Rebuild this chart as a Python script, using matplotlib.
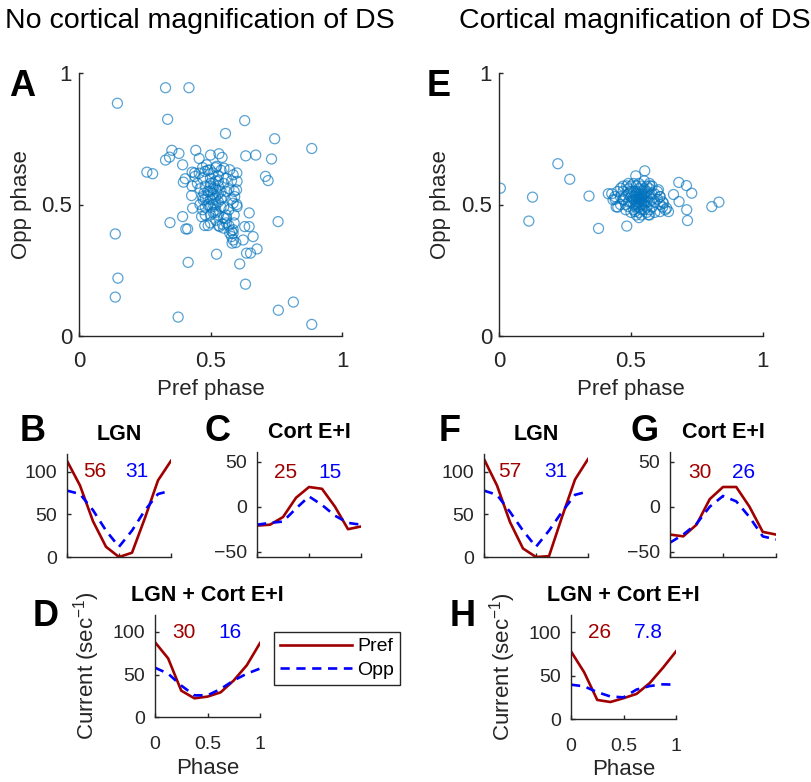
import matplotlib
matplotlib.use("Agg")
import matplotlib.pyplot as plt
from matplotlib.lines import Line2D

plt.rcParams['font.family'] = ['Liberation Sans', 'DejaVu Sans']
plt.rcParams['mathtext.fontset'] = 'custom'
plt.rcParams['mathtext.rm'] = 'Liberation Sans'
plt.rcParams['mathtext.it'] = 'Liberation Sans'

# ---- scatter data: (pref phase, opp phase) per cell ----
pref_A = [0.146, 0.329, 0.418, 0.337, 0.630, 0.557, 0.744, 0.885, 0.353, 0.380,
          0.444, 0.329, 0.344, 0.457, 0.500, 0.532, 0.544, 0.634, 0.672, 0.732,
          0.394, 0.258, 0.280, 0.430, 0.441, 0.404, 0.397, 0.709, 0.719, 0.428,
          0.432, 0.346, 0.394, 0.406, 0.413, 0.138, 0.415, 0.523, 0.611, 0.637,
          0.652, 0.677, 0.662, 0.647, 0.757, 0.630, 0.647, 0.633, 0.148, 0.138,
          0.377, 0.758, 0.815, 0.885, 0.586, 0.582, 0.596, 0.624, 0.478, 0.491,
          0.535, 0.546, 0.586, 0.586, 0.573, 0.580, 0.561, 0.466, 0.470, 0.472,
          0.475, 0.586, 0.601, 0.592, 0.599, 0.601, 0.586, 0.573, 0.551, 0.523,
          0.498, 0.479, 0.457, 0.485,
          0.50, 0.51, 0.52, 0.49, 0.50, 0.51, 0.52, 0.53, 0.54, 0.52,
          0.50, 0.53, 0.49, 0.51, 0.53, 0.55, 0.54, 0.56, 0.55, 0.53,
          0.51, 0.48, 0.47, 0.48, 0.50, 0.52, 0.55, 0.57, 0.58, 0.57,
          0.56, 0.54, 0.52, 0.49, 0.47, 0.46, 0.46, 0.48, 0.50, 0.53,
          0.56, 0.59, 0.60, 0.59, 0.58, 0.51, 0.52, 0.50, 0.51, 0.53,
          0.52, 0.50, 0.49, 0.54, 0.51, 0.53, 0.50, 0.52, 0.55, 0.48,
          0.56, 0.57, 0.58, 0.59, 0.55, 0.45, 0.44, 0.43, 0.47, 0.60]
opp_A = [0.885, 0.944, 0.944, 0.824, 0.819, 0.770, 0.750, 0.713, 0.706, 0.694,
         0.706, 0.669, 0.680, 0.675, 0.688, 0.693, 0.679, 0.685, 0.688, 0.673,
         0.651, 0.623, 0.617, 0.623, 0.607, 0.598, 0.585, 0.607, 0.591, 0.534,
         0.486, 0.431, 0.454, 0.407, 0.407, 0.388, 0.280, 0.311, 0.274, 0.315,
         0.315, 0.331, 0.378, 0.468, 0.435, 0.416, 0.416, 0.197, 0.220, 0.148,
         0.072, 0.098, 0.129, 0.044, 0.365, 0.353, 0.355, 0.365, 0.420, 0.420,
         0.416, 0.425, 0.404, 0.391, 0.391, 0.378, 0.448, 0.454, 0.480, 0.518,
         0.543, 0.505, 0.492, 0.530, 0.556, 0.588, 0.613, 0.632, 0.638, 0.645,
         0.632, 0.626, 0.619, 0.651,
         0.58, 0.56, 0.59, 0.55, 0.52, 0.50, 0.48, 0.51, 0.55, 0.53,
         0.60, 0.57, 0.50, 0.47, 0.46, 0.49, 0.52, 0.55, 0.58, 0.61,
         0.62, 0.57, 0.53, 0.49, 0.46, 0.44, 0.45, 0.48, 0.52, 0.56,
         0.60, 0.63, 0.64, 0.63, 0.60, 0.56, 0.50, 0.46, 0.43, 0.42,
         0.43, 0.46, 0.50, 0.55, 0.59, 0.54, 0.56, 0.55, 0.58, 0.54,
         0.50, 0.49, 0.53, 0.49, 0.52, 0.59, 0.57, 0.47, 0.53, 0.52,
         0.46, 0.42, 0.40, 0.43, 0.41, 0.58, 0.62, 0.57, 0.64, 0.62]

pref_E = [0.005, 0.127, 0.113, 0.223, 0.268, 0.341, 0.377, 0.484, 0.518, 0.552,
          0.681, 0.710, 0.730, 0.711, 0.714, 0.661, 0.682, 0.806, 0.833, 0.642,
          0.635, 0.414, 0.427, 0.439, 0.432, 0.444, 0.461, 0.484, 0.572, 0.604,
          0.610, 0.610, 0.566, 0.515, 0.490, 0.471, 0.623,
          0.53, 0.54, 0.52, 0.55, 0.53, 0.54, 0.52, 0.55, 0.51, 0.56,
          0.53, 0.54, 0.52, 0.55, 0.53, 0.57, 0.50, 0.51, 0.56, 0.54,
          0.52, 0.55, 0.53, 0.57, 0.50, 0.58, 0.49, 0.51, 0.56, 0.54,
          0.52, 0.58, 0.49, 0.55, 0.53, 0.51, 0.57, 0.59, 0.48, 0.50,
          0.56, 0.54, 0.57, 0.59, 0.60, 0.48, 0.47, 0.50, 0.52, 0.56,
          0.58, 0.61, 0.60, 0.58, 0.53, 0.55, 0.51, 0.49, 0.47, 0.46,
          0.46, 0.48, 0.50, 0.53, 0.57, 0.59, 0.62, 0.63, 0.61, 0.62,
          0.45, 0.44, 0.45, 0.47, 0.49, 0.57, 0.52, 0.54, 0.53, 0.54,
          0.52, 0.55, 0.53, 0.54, 0.53, 0.55, 0.52, 0.56, 0.54, 0.51]
opp_E = [0.562, 0.528, 0.437, 0.655, 0.596, 0.532, 0.409, 0.418, 0.609, 0.628,
         0.584, 0.572, 0.543, 0.480, 0.439, 0.538, 0.511, 0.492, 0.509, 0.473,
         0.486, 0.541, 0.541, 0.530, 0.518, 0.491, 0.562, 0.571, 0.571, 0.556,
         0.530, 0.473, 0.461, 0.473, 0.492, 0.518, 0.505,
         0.52, 0.53, 0.51, 0.52, 0.54, 0.50, 0.53, 0.54, 0.52, 0.51,
         0.50, 0.55, 0.55, 0.50, 0.49, 0.53, 0.53, 0.50, 0.55, 0.48,
         0.49, 0.56, 0.56, 0.51, 0.51, 0.52, 0.54, 0.55, 0.49, 0.57,
         0.57, 0.54, 0.51, 0.48, 0.47, 0.48, 0.56, 0.51, 0.53, 0.55,
         0.57, 0.46, 0.48, 0.54, 0.52, 0.50, 0.52, 0.57, 0.46, 0.47,
         0.49, 0.50, 0.55, 0.57, 0.58, 0.59, 0.58, 0.56, 0.55, 0.53,
         0.50, 0.48, 0.47, 0.45, 0.46, 0.47, 0.49, 0.48, 0.53, 0.51,
         0.55, 0.52, 0.49, 0.57, 0.58, 0.58, 0.52, 0.52, 0.53, 0.51,
         0.54, 0.53, 0.51, 0.54, 0.52, 0.51, 0.50, 0.53, 0.53, 0.53]

# ---- current vs phase curves ----
phase = [0, 0.125, 0.25, 0.375, 0.5, 0.625, 0.75, 0.875, 1.0]

lgn_pref_B = [113, 84, 42, 12, 0, 5, 46, 90, 113]
lgn_opp_B = [78, 74, 55, 31, 12, 31, 55, 74, 78]
cort_pref_C = [-21, -20, -11.5, 10, 22, 20, 0, -25, -22]
cort_opp_C = [-20, -18, -16.5, -2, 11.5, 2, -10, -18, -20]
tot_pref_D = [88, 69, 31, 22, 24, 29, 43, 61, 87]
tot_opp_D = [58, 51, 37, 25.5, 25.5, 33, 43, 51, 57]

lgn_pref_F = [115, 84, 41, 10, 0, 1, 47, 91, 115]
lgn_opp_F = [78, 73, 53, 31, 12, 31, 53, 73, 77]
cort_pref_G = [-31, -33, -20, 8.5, 22, 22, 0, -28, -31]
cort_opp_G = [-40, -31, -19, 0, 12, 6, -11.5, -33, -36.5]
tot_pref_H = [78, 54, 22, 19.6, 24, 29, 41.5, 59, 78]
tot_opp_H = [39.6, 37.7, 31, 26, 25, 34, 38, 40, 39.6]

# modulation amplitudes shown on each panel (pref, opp)
amp_B = ["56", "31"]
amp_C = ["25", "15"]
amp_D = ["30", "16"]
amp_F = ["57", "31"]
amp_G = ["30", "26"]
amp_H = ["26", "7.8"]

PREF_C = "#a00000"
OPP_C = "#0000ff"
DOT_C = "#0072bd"
GRAY = "#262626"

W, H = 811, 782
fig = plt.figure(figsize=(W / 100, H / 100), dpi=100)


def add_ax(l, t, r, b):
    return fig.add_axes([l / W, 1 - b / H, (r - l) / W, (b - t) / H])


def style(ax, tsize=14):
    for s in ["top", "right"]:
        ax.spines[s].set_visible(False)
    for s in ["left", "bottom"]:
        ax.spines[s].set_color(GRAY)
        ax.spines[s].set_linewidth(1.0)
    ax.tick_params(direction="in", length=3, width=1.0, colors=GRAY,
                   labelsize=tsize, labelcolor=GRAY)


def scatter_panel(ax, x, y):
    ax.scatter(x, y, s=52, facecolors="none", edgecolors=DOT_C,
               linewidths=0.9, alpha=0.65)
    ax.set_xlim(0, 1)
    ax.set_ylim(0, 1)
    ax.set_xticks([0, 0.5, 1])
    ax.set_yticks([0, 0.5, 1])
    ax.set_xticklabels(["0", "0.5", "1"])
    ax.set_yticklabels(["0", "0.5", "1"])
    style(ax, 16)
    ax.tick_params(axis="x", pad=11)
    ax.tick_params(axis="y", pad=5)
    ax.set_xlabel("Pref phase", fontsize=16, color=GRAY)
    ax.set_ylabel("Opp phase", fontsize=16, color=GRAY)
    ax.xaxis.set_label_coords(0.5, -0.165)
    ax.yaxis.set_label_coords(-0.18, 0.5)


def curve_panel(ax, pref, opp, amps, ylim, yticks, title, ty, xlabels=False):
    ax.plot(phase, pref, color=PREF_C, lw=1.9, label="Pref")
    ax.plot(phase, opp, color=OPP_C, lw=1.9, ls=(0, (3.5, 2.5)), label="Opp")
    ax.set_xlim(0, 1)
    ax.set_ylim(*ylim)
    ax.set_xticks([0, 0.5, 1])
    ax.set_yticks(yticks)
    style(ax, 14)
    ax.tick_params(axis="y", pad=7)
    if xlabels:
        ax.set_xticklabels(["0", "0.5", "1"])
        ax.tick_params(axis="x", pad=14)
    else:
        ax.set_xticklabels([])
    ax.text(amps[2], ty, amps[0], color=PREF_C, fontsize=15,
            ha="center", va="center")
    ax.text(amps[3], ty, amps[1], color=OPP_C, fontsize=15,
            ha="center", va="center")
    ax.set_title(title, fontsize=15.5, fontweight="bold", pad=10)


axA = add_ax(79, 73, 342, 336)
scatter_panel(axA, pref_A, opp_A)
axE = add_ax(499, 73, 763, 336)
scatter_panel(axE, pref_E, opp_E)

axB = add_ax(67, 454, 171, 557)
curve_panel(axB, lgn_pref_B, lgn_opp_B, amp_B + [0.27, 0.67], (0, 121),
            [0, 50, 100], "LGN", 100)
axC = add_ax(257, 452, 361, 557)
curve_panel(axC, cort_pref_C, cort_opp_C, amp_C + [0.27, 0.70], (-56, 61),
            [-50, 0, 50], "Cort E+I", 38)
axF = add_ax(484, 454, 588, 557)
curve_panel(axF, lgn_pref_F, lgn_opp_F, amp_F + [0.25, 0.69], (0, 121),
            [0, 50, 100], "LGN", 100)
axG = add_ax(670, 452, 776, 557)
curve_panel(axG, cort_pref_G, cort_opp_G, amp_G + [0.28, 0.69], (-56, 61),
            [-50, 0, 50], "Cort E+I", 38)
axD = add_ax(155, 615, 260, 717)
curve_panel(axD, tot_pref_D, tot_opp_D, amp_D + [0.28, 0.71], (0, 120),
            [0, 50, 100], "LGN + Cort E+I", 100, xlabels=True)
axH = add_ax(571, 615, 676, 719)
curve_panel(axH, tot_pref_H, tot_opp_H, amp_H + [0.27, 0.74], (0, 120),
            [0, 50, 100], "LGN + Cort E+I", 100, xlabels=True)

for ax in (axD, axH):
    ax.set_xlabel("Phase", fontsize=16, color=GRAY)
    ax.set_ylabel("Current (sec$^{-1}$)", fontsize=16, color=GRAY)
    ax.yaxis.set_label_coords(-0.5, 0.5)
axD.xaxis.set_label_coords(0.5, -0.40)
axH.xaxis.set_label_coords(0.5, -0.385)

handles = [Line2D([], [], color=PREF_C, lw=1.9),
           Line2D([], [], color=OPP_C, lw=1.9, ls=(0, (3.5, 2.5)))]
leg = fig.legend(handles, ["Pref", "Opp"], loc="upper left",
                 bbox_to_anchor=(274 / W, 1 - 632 / H), fontsize=14,
                 frameon=True, fancybox=False, framealpha=1,
                 edgecolor=GRAY, handlelength=3.7, borderaxespad=0,
                 borderpad=0.3, labelspacing=0.3, handletextpad=0.3)
leg.get_frame().set_linewidth(1.0)

# column headings
fig.text(5 / W, 1 - 21 / H, "No cortical magnification of DS", fontsize=20.5,
         ha="left", va="center")
fig.text(459 / W, 1 - 21 / H, "Cortical magnification of DS", fontsize=20.5,
         ha="left", va="center")

# panel letters
letters = {"A": (22, 87), "E": (439, 87), "B": (33, 432), "C": (217, 432),
           "F": (450, 432), "G": (645, 432), "D": (46, 617), "H": (463, 616)}
for k, (px, py) in letters.items():
    fig.text(px / W, 1 - py / H, k, fontsize=26, fontweight="bold",
             ha="center", va="center")

fig.savefig("out.png", dpi=100, facecolor="white")
